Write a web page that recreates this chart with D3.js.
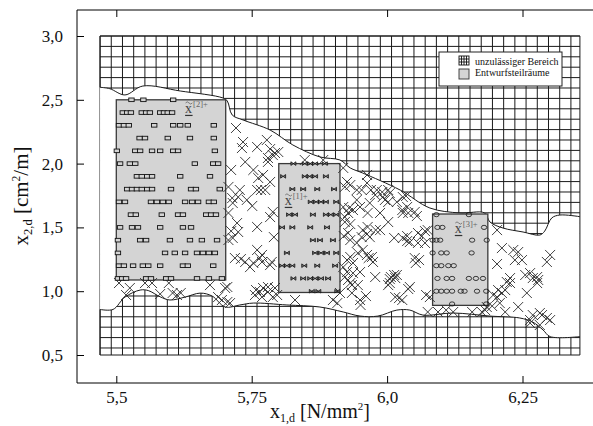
<!DOCTYPE html>
<html>
<head>
<meta charset="utf-8">
<script src="https://cdn.jsdelivr.net/npm/d3@7"></script>
<style>
  body { margin: 0; background: #fff; }
  svg { display: block; }
  text { font-family: "Liberation Serif", "Times New Roman", serif; }
</style>
</head>
<body>
<div id="viz"></div>
<script>
"use strict";

// axis ticks
let xTicks = [5.5, 5.75, 6.0, 6.25];
let xTickLabels = ["5,5", "5,75", "6,0", "6,25"];
let yTicks = [0.5, 1.0, 1.5, 2.0, 2.5, 3.0];
let yTickLabels = ["0,5", "1,0", "1,5", "2,0", "2,5", "3,0"];

// hatched (infeasible) grid area and its cell size
let gridX = [5.47, 6.356];
let gridY = [0.5, 3.0];
let gridStepX = 0.0207;
let gridStepY = 0.0815;

// boundary of the feasible (white) region
let upperBound = [[5.470, 2.598], [5.488, 2.587], [5.516, 2.538], [5.549, 2.608], [5.618, 2.569],
  [5.697, 2.514], [5.705, 2.490], [5.714, 2.381], [5.734, 2.342], [5.784, 2.263], [5.826, 2.146],
  [5.876, 2.052], [5.913, 2.028], [5.932, 1.966], [5.955, 1.926], [6.024, 1.793], [6.079, 1.652],
  [6.134, 1.613], [6.180, 1.613], [6.190, 1.542], [6.214, 1.495], [6.251, 1.464], [6.282, 1.440],
  [6.291, 1.471], [6.304, 1.574], [6.319, 1.597], [6.356, 1.584]];
let lowerBound = [[5.470, 0.857], [5.494, 0.857], [5.516, 0.954], [5.544, 1.009], [5.559, 1.005],
  [5.581, 0.956], [5.599, 0.931], [5.627, 0.954], [5.655, 0.985], [5.677, 0.962], [5.701, 0.876],
  [5.728, 0.892], [5.753, 0.907], [5.815, 0.892], [5.876, 0.876], [5.919, 0.837], [5.950, 0.805],
  [5.983, 0.805], [6.018, 0.852], [6.042, 0.852], [6.066, 0.813], [6.122, 0.829], [6.190, 0.805],
  [6.245, 0.790], [6.269, 0.758], [6.288, 0.696], [6.301, 0.644], [6.356, 0.644]];

// design subspaces (Entwurfsteilräume)
let boxNames = ["[1]+", "[2]+", "[3]+"];
let boxX0 = [5.800, 5.500, 6.084];
let boxX1 = [5.913, 5.702, 6.186];
let boxY0 = [0.99, 1.088, 0.889];
let boxY1 = [2.0, 2.5, 1.605];
let boxLabelX = [5.811, 5.627, 6.125];
let boxLabelY = [1.676, 2.397, 1.456];

// sample points inside box [2]+ (squares)
let sqY = [2.5, 2.4, 2.3, 2.2, 2.1, 2.0, 1.9, 1.8, 1.7, 1.6, 1.5, 1.4, 1.3, 1.2, 1.1];
let sqX = [
  [5.528, 5.550, 5.605],
  [5.512, 5.520, 5.527, 5.547, 5.555, 5.562, 5.581, 5.588, 5.595, 5.603],
  [5.505, 5.514, 5.523, 5.570, 5.605, 5.618, 5.632, 5.680],
  [5.543, 5.553, 5.595, 5.636, 5.680],
  [5.501, 5.535, 5.544, 5.566, 5.581, 5.605, 5.614, 5.682],
  [5.507, 5.525, 5.535, 5.645, 5.679, 5.688],
  [5.538, 5.547, 5.557, 5.566, 5.618, 5.673],
  [5.520, 5.529, 5.538, 5.547, 5.557, 5.566, 5.601, 5.638, 5.647, 5.691],
  [5.505, 5.516, 5.564, 5.575, 5.586, 5.597, 5.627, 5.640, 5.651, 5.671, 5.680],
  [5.527, 5.536, 5.584, 5.614, 5.623, 5.666, 5.675, 5.684],
  [5.507, 5.529, 5.540, 5.581, 5.623, 5.638],
  [5.503, 5.544, 5.555, 5.599, 5.636, 5.658, 5.686],
  [5.503, 5.590, 5.608, 5.627, 5.649, 5.660, 5.671, 5.682],
  [5.505, 5.514, 5.531, 5.549, 5.559, 5.581, 5.623, 5.632, 5.679],
  [5.503, 5.511, 5.518, 5.555, 5.564, 5.592, 5.601, 5.649, 5.671, 5.695]
];

// sample points inside box [1]+ (bowties)
let bowY = [2.0, 1.9, 1.8, 1.7, 1.6, 1.5, 1.4, 1.3, 1.2, 1.1, 1.0];
let bowX = [
  [5.827, 5.848, 5.858, 5.867, 5.885],
  [5.808, 5.848, 5.857, 5.867, 5.887],
  [5.825, 5.845, 5.871, 5.902],
  [5.859, 5.869, 5.878, 5.887, 5.906],
  [5.819, 5.830, 5.863, 5.887, 5.896, 5.906],
  [5.806, 5.825, 5.858, 5.889],
  [5.863, 5.876, 5.900],
  [5.815, 5.867, 5.878, 5.889, 5.906],
  [5.806, 5.815, 5.825, 5.847, 5.871, 5.904],
  [5.827, 5.845, 5.858, 5.867, 5.878, 5.891],
  [5.861, 5.873, 5.908]
];

// sample points inside box [3]+ (circles)
let circY = [1.6, 1.5, 1.4, 1.3, 1.2, 1.1, 1.0, 0.9];
let circX = [
  [6.091, 6.151],
  [6.093, 6.102, 6.179],
  [6.084, 6.091, 6.098, 6.157, 6.184],
  [6.084, 6.100, 6.110, 6.156],
  [6.091, 6.100, 6.113, 6.123],
  [6.093, 6.110, 6.120, 6.151, 6.164, 6.177],
  [6.091, 6.100, 6.110, 6.120, 6.136, 6.143, 6.166, 6.183],
  [6.120, 6.183]
];

// feasible samples outside the boxes (crosses)
let crossPts = [
  [5.721, 2.279], [5.734, 2.169], [5.732, 2.122], [5.760, 2.130], [5.778, 2.185], [5.784, 2.114],
  [5.793, 2.083], [5.799, 2.091], [5.789, 2.067], [5.780, 2.044], [5.738, 2.013], [5.780, 2.013],
  [5.712, 1.950], [5.753, 1.950], [5.762, 1.887], [5.771, 1.911], [5.784, 1.856], [5.707, 1.817],
  [5.767, 1.793], [5.760, 1.793], [5.775, 1.793], [5.728, 1.793], [5.725, 1.738], [5.714, 1.730],
  [5.741, 1.715], [5.715, 1.691], [5.751, 1.668], [5.707, 1.613], [5.789, 1.621], [5.784, 1.581],
  [5.723, 1.534], [5.760, 1.503], [5.712, 1.471], [5.725, 1.464], [5.715, 1.417], [5.707, 1.401],
  [5.791, 1.424], [5.760, 1.323], [5.765, 1.260], [5.769, 1.284], [5.753, 1.221], [5.747, 1.189],
  [5.769, 1.229], [5.719, 1.260], [5.730, 1.252], [5.787, 1.229], [5.784, 1.205], [5.738, 1.229],
  [5.701, 1.025], [5.758, 1.009], [5.771, 1.025], [5.780, 0.994], [5.780, 1.033], [5.793, 1.025],
  [5.789, 0.954], [5.769, 0.954], [5.756, 0.970], [5.765, 0.994], [5.797, 0.970],
  [5.505, 1.064], [5.518, 0.970], [5.525, 1.025], [5.553, 1.064], [5.566, 1.064], [5.581, 0.978],
  [5.597, 1.064], [5.604, 0.986], [5.612, 0.970], [5.619, 0.986], [5.673, 1.048], [5.688, 0.954],
  [5.695, 0.931], [5.705, 1.033], [5.705, 0.915], [5.710, 0.907],
  [5.848, 2.028], [5.882, 2.028], [5.830, 0.931],
  [5.919, 1.966], [5.922, 1.817], [5.926, 1.856], [5.932, 1.832], [5.944, 1.793], [5.953, 1.793],
  [5.963, 1.911], [5.963, 1.848], [5.970, 1.793], [5.978, 1.754], [5.981, 1.793], [5.991, 1.777],
  [5.992, 1.738], [6.002, 1.793], [5.996, 1.715], [6.002, 1.699], [6.005, 1.769], [6.018, 1.699],
  [6.029, 1.738], [6.035, 1.746], [6.037, 1.660], [6.028, 1.636], [5.968, 1.691], [5.944, 1.715],
  [5.919, 1.660], [5.930, 1.652], [5.928, 1.613], [5.937, 1.636], [5.950, 1.660], [5.987, 1.613],
  [5.964, 1.613], [6.029, 1.613], [6.039, 1.613], [6.051, 1.621], [6.055, 1.589], [5.922, 1.581],
  [6.002, 1.542], [5.922, 1.542], [5.932, 1.526], [5.964, 1.503], [5.955, 1.479], [5.979, 1.479],
  [5.987, 1.479], [5.928, 1.456], [5.920, 1.432], [5.932, 1.401], [5.953, 1.424], [5.968, 1.424],
  [5.963, 1.448], [6.013, 1.417], [6.029, 1.417], [6.037, 1.432], [6.037, 1.393], [6.042, 1.385],
  [6.057, 1.456], [6.064, 1.432], [6.075, 1.479], [6.070, 1.471], [6.070, 1.378], [6.057, 1.378],
  [5.944, 1.378], [5.955, 1.323], [5.946, 1.299], [5.963, 1.284], [5.972, 1.268], [5.974, 1.229],
  [5.966, 1.260], [5.926, 1.244], [5.932, 1.268], [5.937, 1.221], [5.919, 1.189], [5.926, 1.150],
  [5.950, 1.150], [5.937, 1.142], [5.922, 1.111], [5.928, 1.088], [5.932, 1.064], [5.935, 1.048],
  [5.946, 1.048], [5.935, 0.986], [5.913, 0.986], [5.961, 0.962], [5.950, 0.931], [5.951, 0.892],
  [5.908, 0.907], [5.900, 0.931], [5.978, 1.111], [6.007, 1.111], [6.005, 1.095], [6.018, 1.127],
  [6.013, 1.127], [6.015, 1.103], [6.002, 1.048], [6.042, 1.033], [6.039, 1.017], [6.005, 1.064],
  [6.022, 0.946], [6.015, 0.954], [6.028, 0.931], [6.051, 1.260], [6.053, 1.221], [6.059, 1.244],
  [6.079, 0.954], [6.072, 0.970], [6.075, 0.837], [6.094, 0.837], [6.109, 0.852], [6.122, 0.837],
  [6.157, 0.837],
  [6.203, 1.479], [6.212, 1.338], [6.233, 1.323], [6.242, 1.307], [6.249, 1.244], [6.203, 1.213],
  [6.236, 1.244], [6.301, 1.284], [6.295, 1.229], [6.227, 1.103], [6.221, 1.072], [6.255, 1.127],
  [6.264, 1.142], [6.269, 1.103], [6.277, 1.111], [6.279, 1.088], [6.258, 0.986], [6.205, 1.009],
  [6.212, 0.986], [6.208, 0.907], [6.194, 0.884], [6.218, 0.837], [6.242, 0.876], [6.264, 0.774],
  [6.282, 0.735], [6.286, 0.813], [6.295, 0.790], [6.301, 0.774], [6.203, 0.954], [6.184, 0.876],
  [6.175, 0.837], [6.218, 1.009], [6.227, 1.064], [6.277, 1.064], [6.282, 0.829], [6.196, 0.970],
  [6.181, 0.852], [6.269, 0.813], [6.264, 0.750]
];

let legendLabels = ["unzulässiger Bereich", "Entwurfsteilräume"];

function initChart() {
    let width = 593;
    let height = 426;
    let font = "Liberation Serif";
    let boxFill = "#d4d4d4";
    let ink = "#1a1a1a";

    let xScale = d3.scaleLinear().domain([5.5, 6.25]).range([116.3, 522.5]);
    let yScale = d3.scaleLinear().domain([0.5, 3.0]).range([355, 36]);

    // frame edges (left / bottom / top), right edge runs off the page
    let frameL = 77, frameR = 620, frameT = 10, frameB = 383;

    let svg = d3.select('#viz')
                .append('svg')
                .attr('width', width)
                .attr('height', height);

    // hatch grid over the whole window
    let gx0 = xScale(gridX[0]), gx1 = xScale(gridX[1]);
    let gyT = yScale(gridY[1]), gyB = yScale(gridY[0]);
    let grid = svg.append('g').attr('stroke', ink).attr('stroke-width', 1);
    grid.selectAll('line.v')
        .data(d3.range(gridX[0], gridX[1], gridStepX))
        .enter().append('line')
        .attr('class', 'v')
        .attr('x1', d => xScale(d)).attr('x2', d => xScale(d))
        .attr('y1', gyT).attr('y2', gyB);
    grid.selectAll('line.h')
        .data(d3.range(gridY[1], gridY[0], -gridStepY))
        .enter().append('line')
        .attr('class', 'h')
        .attr('x1', gx0).attr('x2', gx1)
        .attr('y1', d => yScale(d)).attr('y2', d => yScale(d));

    // feasible region: white, bounded by two curves
    let line = d3.line()
                 .x(d => xScale(d[0]))
                 .y(d => yScale(d[1]))
                 .curve(d3.curveCatmullRom.alpha(0.5));
    let upPath = line(upperBound);
    let lowPath = line(lowerBound.slice().reverse());
    svg.append('path')
       .attr('d', upPath + 'L' + lowPath.slice(1) + 'Z')
       .attr('fill', '#fff');
    svg.append('path').attr('d', upPath).attr('fill', 'none').attr('stroke', ink).attr('stroke-width', 1);
    svg.append('path').attr('d', line(lowerBound)).attr('fill', 'none').attr('stroke', ink).attr('stroke-width', 1);

    // border of the grid window
    let up0 = upperBound[0], lo0 = lowerBound[0];
    let border = svg.append('g').attr('stroke', ink).attr('stroke-width', 1);
    border.append('line').attr('x1', gx0).attr('x2', gx1).attr('y1', gyT).attr('y2', gyT);
    border.append('line').attr('x1', gx0).attr('x2', gx1).attr('y1', gyB).attr('y2', gyB);
    border.append('line').attr('x1', gx0).attr('x2', gx0).attr('y1', gyT).attr('y2', yScale(up0[1]));
    border.append('line').attr('x1', gx0).attr('x2', gx0).attr('y1', yScale(lo0[1])).attr('y2', gyB);
    border.append('line').attr('x1', gx1).attr('x2', gx1).attr('y1', gyT).attr('y2', gyB);

    // boxes
    svg.selectAll('rect.box')
       .data(boxNames)
       .enter().append('rect')
       .attr('class', 'box')
       .attr('x', (d, i) => xScale(boxX0[i]))
       .attr('y', (d, i) => yScale(boxY1[i]))
       .attr('width', (d, i) => xScale(boxX1[i]) - xScale(boxX0[i]))
       .attr('height', (d, i) => yScale(boxY0[i]) - yScale(boxY1[i]))
       .attr('fill', boxFill)
       .attr('stroke', '#3a3a3a')
       .attr('stroke-width', 1.3);

    // crosses
    svg.append('g')
       .selectAll('path')
       .data(crossPts)
       .enter().append('path')
       .attr('d', d => {
           let x = xScale(d[0]), y = yScale(d[1]), s = 5;
           return `M${x - s},${y - s}L${x + s},${y + s}M${x - s},${y + s}L${x + s},${y - s}`;
       })
       .attr('stroke', '#2a2a2a')
       .attr('stroke-width', 0.9)
       .attr('fill', 'none');

    // flatten row data
    function rowsToPts(ys, xs) {
        let out = [];
        ys.forEach((y, i) => xs[i].forEach(x => out.push([x, y])));
        return out;
    }

    // squares in box [2]+
    svg.append('g')
       .selectAll('rect')
       .data(rowsToPts(sqY, sqX))
       .enter().append('rect')
       .attr('x', d => xScale(d[0]) - 2.7)
       .attr('y', d => yScale(d[1]) - 1.8)
       .attr('width', 5.4)
       .attr('height', 3.6)
       .attr('fill', boxFill)
       .attr('stroke', '#111')
       .attr('stroke-width', 0.9);

    // bowties in box [1]+
    svg.append('g')
       .selectAll('path')
       .data(rowsToPts(bowY, bowX))
       .enter().append('path')
       .attr('d', d => {
           let x = xScale(d[0]), y = yScale(d[1]);
           return `M${x - 2.5},${y - 1.8}L${x + 2.5},${y + 1.8}V${y - 1.8}L${x - 2.5},${y + 1.8}Z`;
       })
       .attr('fill', '#777')
       .attr('stroke', '#111')
       .attr('stroke-width', 0.8);

    // circles in box [3]+
    svg.append('g')
       .selectAll('ellipse')
       .data(rowsToPts(circY, circX))
       .enter().append('ellipse')
       .attr('cx', d => xScale(d[0]))
       .attr('cy', d => yScale(d[1]))
       .attr('rx', 2.7)
       .attr('ry', 2.1)
       .attr('fill', 'none')
       .attr('stroke', '#111')
       .attr('stroke-width', 0.8);

    // box labels: underlined x with tilde and superscript
    let lab = svg.append('g');
    boxNames.forEach((name, i) => {
        let x = xScale(boxLabelX[i]), y = yScale(boxLabelY[i]);
        lab.append('text').attr('x', x).attr('y', y)
           .attr('font-family', font).attr('font-size', 14).attr('fill', '#444').text('x');
        lab.append('path')
           .attr('d', `M${x + 0.5},${y - 10}q1.7,-2.2 3.4,0t3.4,0`)
           .attr('fill', 'none').attr('stroke', '#666').attr('stroke-width', 0.8);
        lab.append('text').attr('x', x + 8).attr('y', y - 6)
           .attr('font-family', font).attr('font-size', 8.5).attr('fill', '#666').text(name);
        lab.append('line')
           .attr('x1', x).attr('x2', x + 7.5)
           .attr('y1', y + 2.5).attr('y2', y + 2.5)
           .attr('stroke', '#333').attr('stroke-width', 1.2);
    });

    // frame
    let frame = svg.append('g').attr('stroke', '#000').attr('stroke-width', 1);
    frame.append('line').attr('x1', frameL).attr('x2', frameL).attr('y1', frameT).attr('y2', frameB);
    frame.append('line').attr('x1', frameL).attr('x2', frameR).attr('y1', frameT).attr('y2', frameT);
    frame.append('line').attr('x1', frameL).attr('x2', frameR).attr('y1', frameB).attr('y2', frameB);

    // axes (inward ticks)
    let xAxis = d3.axisBottom(xScale)
                  .tickValues(xTicks)
                  .tickFormat((d, i) => xTickLabels[i])
                  .tickSizeInner(-7).tickSizeOuter(0).tickPadding(8);
    let gxa = svg.append('g').attr('transform', `translate(0,${frameB})`).call(xAxis);
    gxa.select('.domain').remove();
    gxa.selectAll('text').attr('font-size', 17).attr('font-family', font).attr('fill', '#111');

    let xTop = d3.axisTop(xScale).tickValues(xTicks).tickFormat('').tickSizeInner(-7).tickSizeOuter(0);
    let gxt = svg.append('g').attr('transform', `translate(0,${frameT})`).call(xTop);
    gxt.select('.domain').remove();

    let yAxis = d3.axisLeft(yScale)
                  .tickValues(yTicks)
                  .tickFormat((d, i) => yTickLabels[i])
                  .tickSizeInner(-7).tickSizeOuter(0).tickPadding(14);
    let gya = svg.append('g').attr('transform', `translate(${frameL},0)`).call(yAxis);
    gya.select('.domain').remove();
    gya.selectAll('text').attr('font-size', 17).attr('font-family', font).attr('fill', '#111');

    // axis titles
    let xt = svg.append('text').attr('x', 270).attr('y', 418)
                .attr('font-family', font).attr('font-size', 20).attr('fill', '#111');
    xt.append('tspan').text('x');
    xt.append('tspan').attr('dy', 4).attr('font-size', 12).text('1,d');
    xt.append('tspan').attr('dy', -4).text(' [N/mm');
    xt.append('tspan').attr('dy', -8).attr('font-size', 11).text('2');
    xt.append('tspan').attr('dy', 8).text(']');

    let yt = svg.append('text')
                .attr('transform', 'translate(28,196) rotate(-90)')
                .attr('text-anchor', 'middle')
                .attr('font-family', font)
                .attr('font-size', 21)
                .attr('fill', '#111');
    yt.append('tspan').text('x');
    yt.append('tspan').attr('dy', 4).attr('font-size', 12.5).text('2,d');
    yt.append('tspan').attr('dy', -4).text(' [cm');
    yt.append('tspan').attr('dy', -8).attr('font-size', 11.5).text('2');
    yt.append('tspan').attr('dy', 8).text('/m]');

    // legend
    let lg = svg.append('g').attr('transform', 'translate(439,52)');
    lg.append('rect').attr('width', 123).attr('height', 34)
      .attr('fill', '#fff').attr('stroke', '#222').attr('stroke-width', 1);
    let icon = lg.append('g').attr('transform', 'translate(20,4)')
                 .attr('stroke', '#111').attr('stroke-width', 0.9);
    icon.append('rect').attr('width', 10).attr('height', 9).attr('fill', '#fff');
    [2.5, 5, 7.5].forEach(v => {
        icon.append('line').attr('x1', v).attr('x2', v).attr('y1', 0).attr('y2', 9);
    });
    [3, 6].forEach(v => {
        icon.append('line').attr('x1', 0).attr('x2', 10).attr('y1', v).attr('y2', v);
    });
    lg.append('rect').attr('x', 20).attr('y', 17).attr('width', 10).attr('height', 10)
      .attr('fill', boxFill).attr('stroke', '#333').attr('stroke-width', 0.9);
    lg.selectAll('text.lt')
      .data(legendLabels)
      .enter().append('text')
      .attr('class', 'lt')
      .attr('x', 36)
      .attr('y', (d, i) => 12.5 + i * 11.5)
      .attr('font-family', font)
      .attr('font-size', 10)
      .attr('fill', '#111')
      .text(d => d);
}

initChart();
</script>
</body>
</html>
